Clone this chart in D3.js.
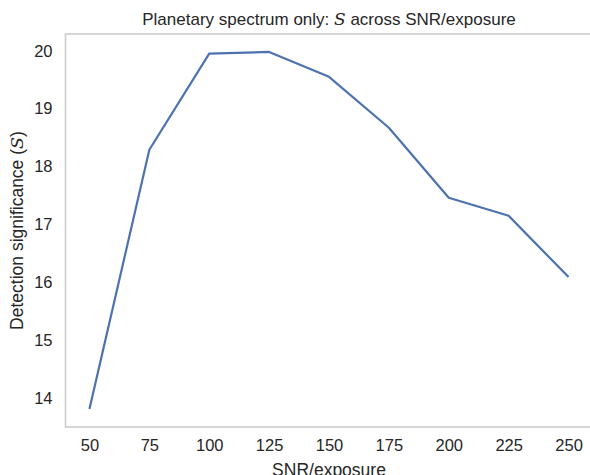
<!DOCTYPE html>
<html>
<head>
<meta charset="utf-8">
<script src="https://cdn.jsdelivr.net/npm/d3@7"></script>
<style>
  body { margin: 0; background: #fff; }
  text { font-family: "Liberation Sans", Arial, sans-serif; fill: #262626; }
</style>
</head>
<body>
<div id="chart"></div>
<script>
// data
var snr = [50, 75, 100, 125, 150, 175, 200, 225, 250];
var significance = [13.81, 18.29, 19.95, 19.98, 19.55, 18.67, 17.46, 17.15, 16.09];
var xTicks = [50, 75, 100, 125, 150, 175, 200, 225, 250];
var yTicks = [14, 15, 16, 17, 18, 19, 20];

var width = 590,
    height = 475,
    margin = { top: 34, right: -2.5, bottom: 48, left: 65.5 }
;

var svg = d3.select('#chart')
  .append('svg')
    .attr('width', width)
    .attr('height', height);

var x = d3.scaleLinear()
  .domain([40, 260])
  .range([margin.left, width - margin.right]);

var y = d3.scaleLinear()
  .domain([13.5, 20.29])
  .range([height - margin.bottom, margin.top]);

// frame
svg.append('rect')
  .attr('x', margin.left)
  .attr('y', margin.top)
  .attr('width', x(260) - margin.left)
  .attr('height', y(13.5) - margin.top)
  .attr('fill', 'none')
  .attr('stroke', '#cccccc')
  .attr('stroke-width', 1.6);

// axes, no tick marks
var xAxis = svg.append('g')
  .attr('transform', 'translate(0,' + (height - margin.bottom) + ')')
  .call(d3.axisBottom(x).tickValues(xTicks).tickSize(0).tickPadding(12));

var yAxis = svg.append('g')
  .attr('transform', 'translate(' + margin.left + ',0)')
  .call(d3.axisLeft(y).tickValues(yTicks).tickFormat(d3.format('d')).tickSize(0).tickPadding(13));

[xAxis, yAxis].forEach(function(a)
{
  a.select('.domain').remove();
  a.selectAll('text')
    .attr('font-size', 16.5)
    .attr('font-family', '"Liberation Sans", Arial, sans-serif')
    .attr('fill', '#262626');
});

// line
var line = d3.line()
  .x(function(d, i) { return x(snr[i]); })
  .y(function(d) { return y(d); });

svg.append('path')
  .datum(significance)
  .attr('d', line)
  .attr('fill', 'none')
  .attr('stroke', '#4c72b0')
  .attr('stroke-width', 2.2)
  .attr('stroke-linejoin', 'round');

// title
var title = svg.append('text')
  .attr('x', 329)
  .attr('y', 25)
  .attr('text-anchor', 'middle')
  .attr('font-size', 17);
title.append('tspan').text('Planetary spectrum only: ');
title.append('tspan')
  .attr('font-family', '"DejaVu Serif", serif')
  .attr('font-style', 'italic')
  .text('S');
title.append('tspan').text(' across SNR/exposure');

// x label
svg.append('text')
  .attr('x', 329)
  .attr('y', 475.5)
  .attr('text-anchor', 'middle')
  .attr('font-size', 17.5)
  .text('SNR/exposure');

// y label
var ylab = svg.append('text')
  .attr('transform', 'translate(23,' + ((margin.top + height - margin.bottom) / 2) + ') rotate(-90)')
  .attr('text-anchor', 'middle')
  .attr('font-size', 17.5);
ylab.append('tspan').text('Detection significance (');
ylab.append('tspan')
  .attr('font-family', '"DejaVu Serif", serif')
  .attr('font-style', 'italic')
  .text('S');
ylab.append('tspan').text(')');
</script>
</body>
</html>
